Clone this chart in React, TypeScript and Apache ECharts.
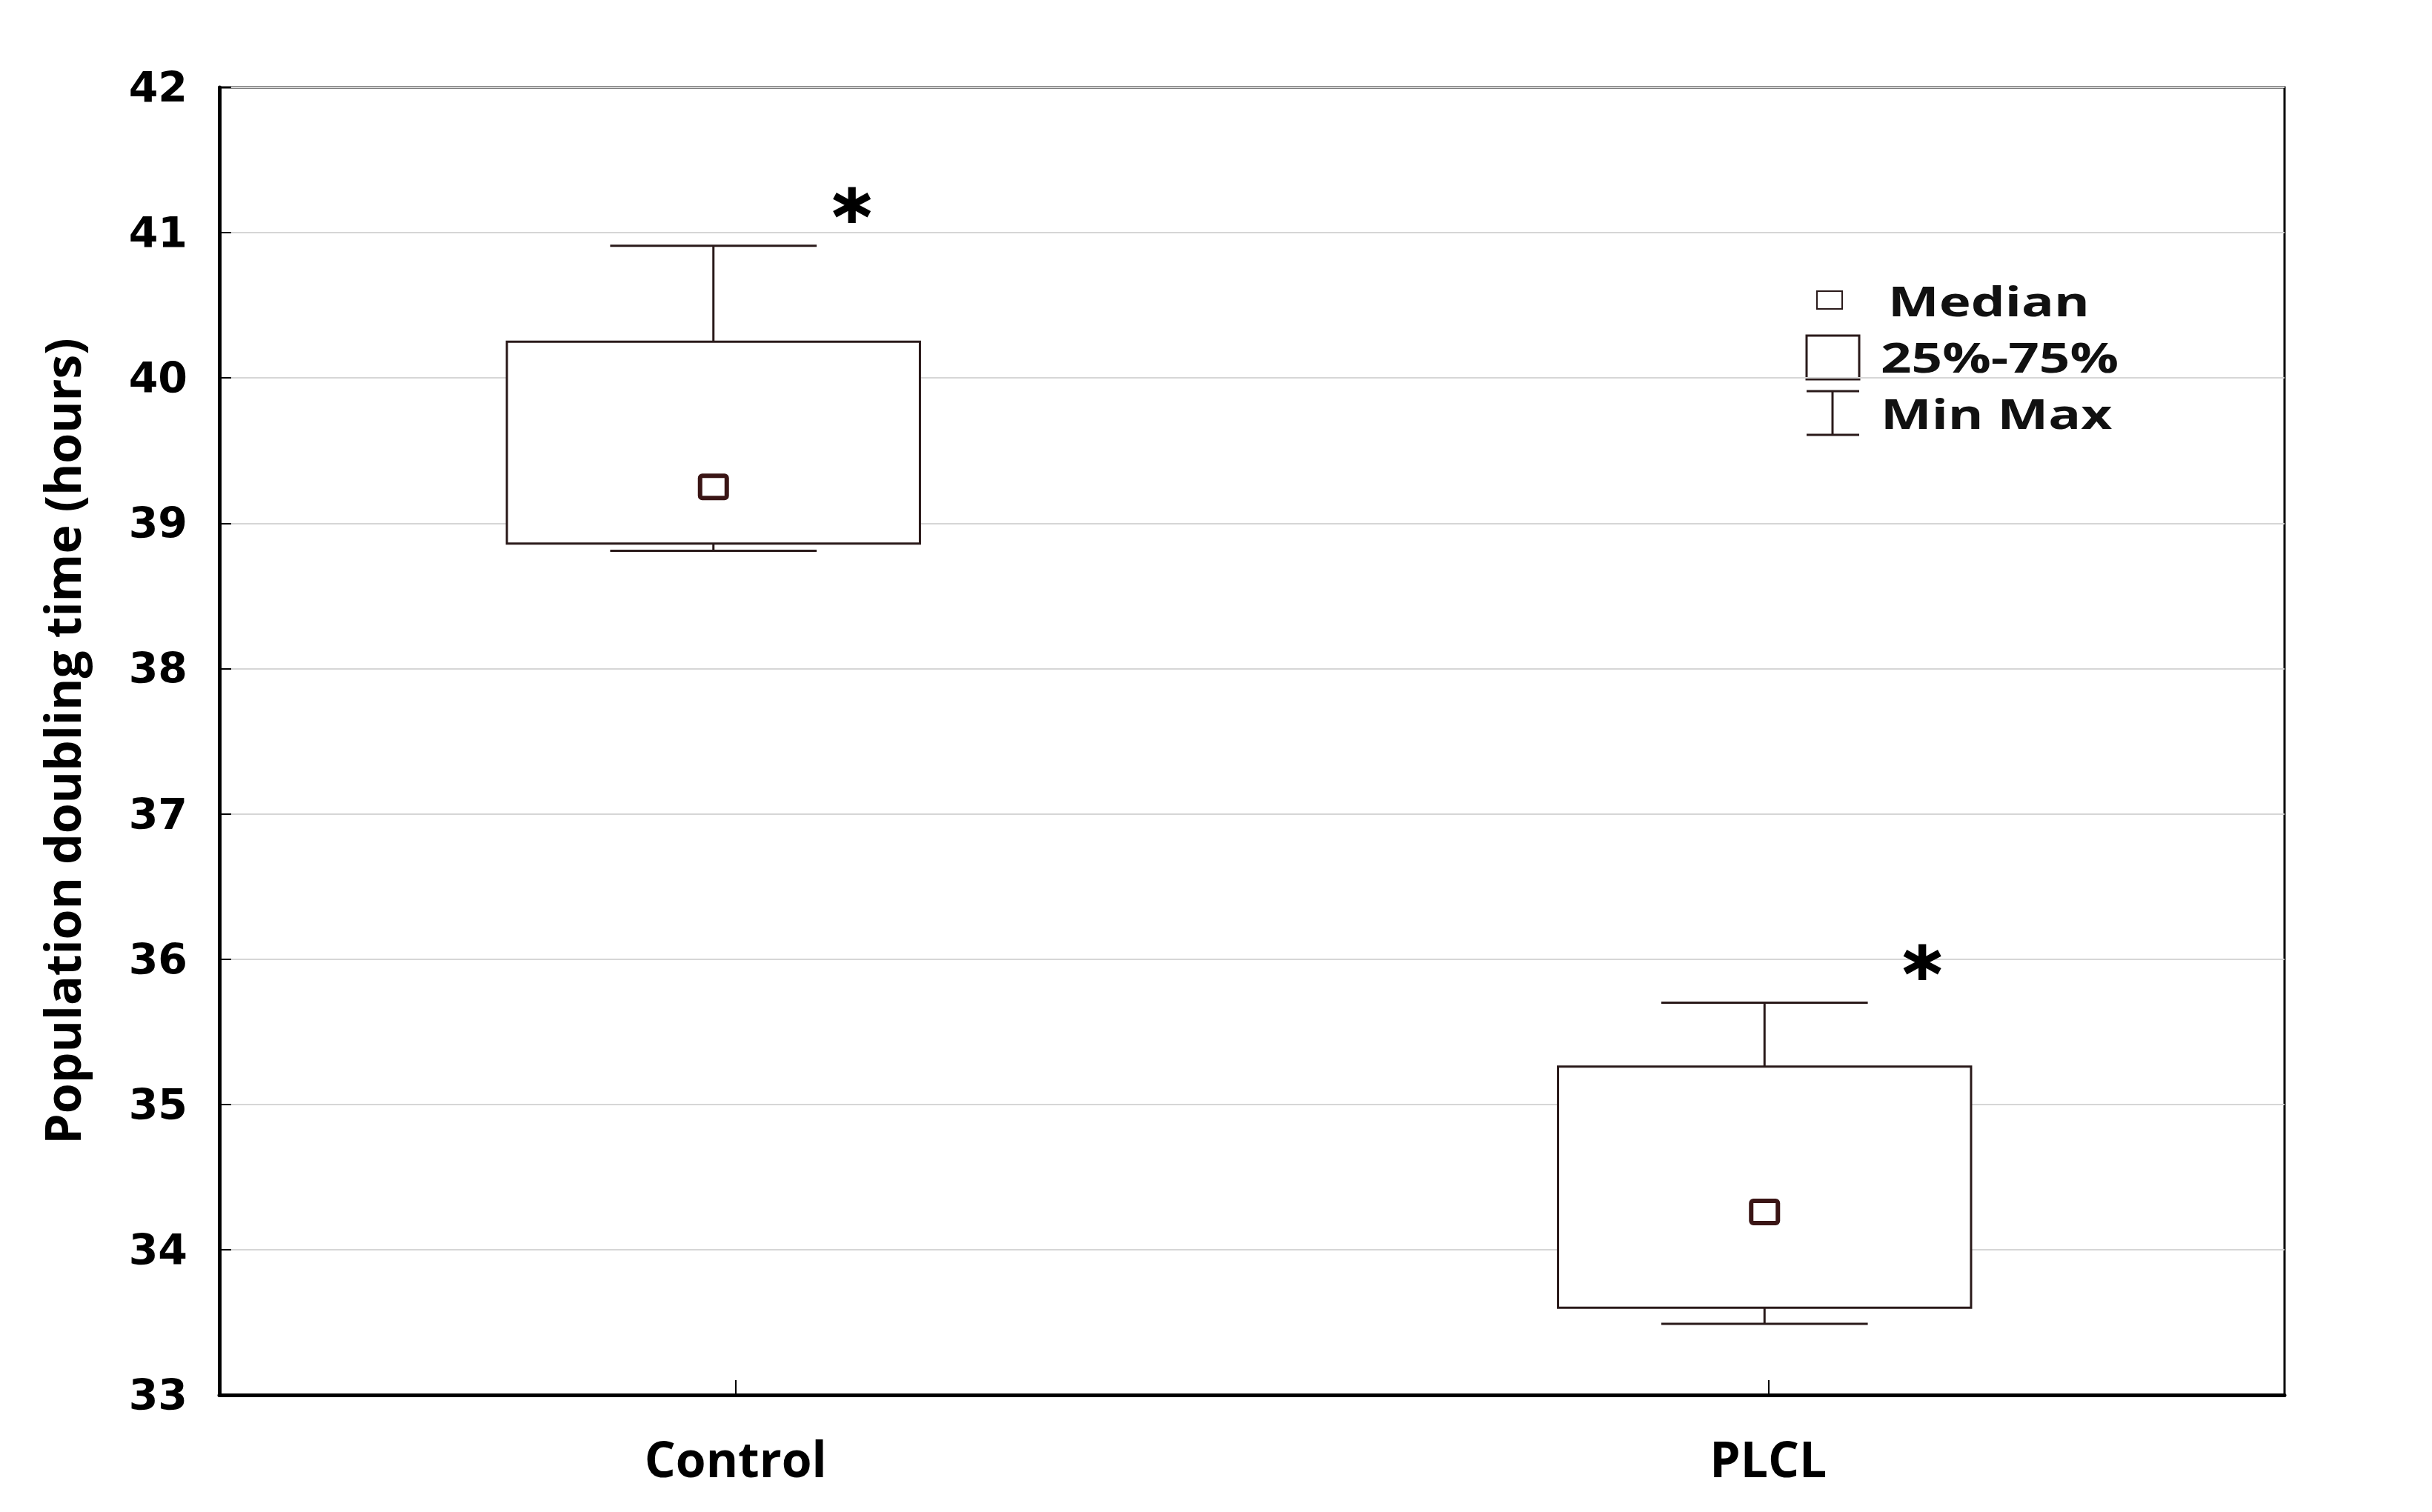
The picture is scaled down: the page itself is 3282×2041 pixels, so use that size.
import React, { useEffect, useRef } from 'react';
import * as echarts from 'echarts';

// ---- data ----
const categories = ['Control', 'PLCL'];
const minValues = [38.81, 33.49];
const q1Values = [38.86, 33.6];
const medianValues = [39.25, 34.26];
const q3Values = [40.25, 35.26];
const maxValues = [40.91, 35.7];
const significance = ['*', '*'];
const yMin = 33;
const yMax = 42;
const yInterval = 1;
const yTitle = 'Population doubling time (hours)';
const legendLabels = ['Median', '25%-75%', 'Min Max'];

// ---- layout / style constants ----
const W = 3282;
const H = 2041;
const boxShift = [-30, -5];
const starNudge = [-13, 13];
const LINE = '#2a1a1a';
const MEDIAN = '#3a1515';

export default function App() {
  const ref = useRef<HTMLDivElement>(null);
  useEffect(() => {
    document.body.style.margin = '0';
    if (!ref.current) return;
    const chart = echarts.init(ref.current, null, { renderer: 'svg' });

    const seriesData = categories.map((_, i) => [
      i,
      minValues[i],
      q1Values[i],
      medianValues[i],
      q3Values[i],
      maxValues[i],
    ]);

    const legendText = (text: string, x: number, y: number) => ({
      type: 'text',
      x,
      y,
      scaleX: 1.3,
      scaleY: 1,
      style: {
        text,
        fontSize: 56,
        fontWeight: 'bold',
        fontFamily: 'Open Sans',
        fill: '#111',
        align: 'left',
        verticalAlign: 'middle',
      },
    });

    chart.setOption({
      animation: false,
      backgroundColor: '#ffffff',
      grid: {
        left: 296,
        right: W - 3083,
        top: 118,
        bottom: H - 1883,
        show: true,
        borderColor: '#000',
        borderWidth: 3,
        backgroundColor: 'transparent',
      },
      xAxis: {
        type: 'category',
        data: categories,
        boundaryGap: true,
        axisLine: { show: true, lineStyle: { color: '#000', width: 5 } },
        axisTick: {
          show: true,
          inside: true,
          alignWithLabel: true,
          length: 20,
          lineStyle: { color: '#000', width: 2 },
        },
        axisLabel: {
          margin: 52,
          fontSize: 66,
          fontWeight: 'bold',
          fontFamily: 'Open Sans',
          color: '#000',
        },
        splitLine: { show: false },
      },
      yAxis: {
        type: 'value',
        min: yMin,
        max: yMax,
        interval: yInterval,
        name: yTitle,
        nameLocation: 'middle',
        nameGap: 180,
        nameTextStyle: {
          fontSize: 66,
          fontWeight: 'bold',
          fontFamily: 'Open Sans',
          color: '#000',
        },
        axisLine: { show: true, lineStyle: { color: '#000', width: 5 } },
        axisTick: {
          show: true,
          inside: true,
          length: 16,
          lineStyle: { color: '#000', width: 2 },
        },
        axisLabel: {
          margin: 43,
          fontSize: 57,
          fontWeight: 'bold',
          fontFamily: 'DejaVu Sans',
          color: '#000',
        },
        splitLine: { show: true, lineStyle: { color: '#d6d6d6', width: 2 } },
      },
      series: [
        {
          type: 'custom',
          data: seriesData,
          encode: { x: 0, y: [1, 2, 3, 4, 5] },
          renderItem: (params: any, api: any) => {
            const i = api.value(0);
            const band = api.size([1, 0])[0];
            const cx = api.coord([i, api.value(3)])[0] + (boxShift[i] ?? 0);
            const pMin = api.coord([i, api.value(1)])[1];
            const pQ1 = api.coord([i, api.value(2)])[1];
            const pMed = api.coord([i, api.value(3)])[1];
            const pQ3 = api.coord([i, api.value(4)])[1];
            const pMax = api.coord([i, api.value(5)])[1];
            const hw = band * 0.2;
            const cw = band * 0.1;
            const ls = { stroke: LINE, lineWidth: 3 };
            return {
              type: 'group',
              children: [
                { type: 'line', shape: { x1: cx, y1: pMax, x2: cx, y2: pQ3 }, style: ls },
                { type: 'line', shape: { x1: cx, y1: pQ1, x2: cx, y2: pMin }, style: ls },
                { type: 'line', shape: { x1: cx - cw, y1: pMax, x2: cx + cw, y2: pMax }, style: ls },
                { type: 'line', shape: { x1: cx - cw, y1: pMin, x2: cx + cw, y2: pMin }, style: ls },
                {
                  type: 'rect',
                  shape: { x: cx - hw, y: pQ3, width: hw * 2, height: pQ1 - pQ3 },
                  style: { fill: '#fff', stroke: LINE, lineWidth: 3 },
                },
                {
                  type: 'rect',
                  shape: { x: cx - 18, y: pMed - 15, width: 36, height: 30, r: 3 },
                  style: { fill: '#fff', stroke: MEDIAN, lineWidth: 6 },
                },
                {
                  type: 'text',
                  x: cx + 200 + (starNudge[i] ?? 0),
                  y: pMax - 38,
                  style: {
                    text: significance[i],
                    fontSize: 100,
                    fontWeight: 'bold',
                    fontFamily: 'DejaVu Sans',
                    fill: '#000',
                    stroke: '#000',
                    lineWidth: 2,
                    align: 'center',
                    verticalAlign: 'middle',
                  },
                },
              ],
            };
          },
        },
      ],
      graphic: [
        {
          type: 'rect',
          shape: { x: 2452, y: 393, width: 34, height: 24 },
          style: { fill: '#fff', stroke: LINE, lineWidth: 2 },
        },
        legendText(legendLabels[0], 2548, 405),
        {
          type: 'rect',
          shape: { x: 2438, y: 453, width: 71, height: 59 },
          style: { fill: '#fff', stroke: LINE, lineWidth: 3 },
        },
        legendText(legendLabels[1], 2538, 481),
        {
          type: 'line',
          shape: { x1: 2438, y1: 528, x2: 2509, y2: 528 },
          style: { stroke: LINE, lineWidth: 3 },
        },
        {
          type: 'line',
          shape: { x1: 2438, y1: 587, x2: 2509, y2: 587 },
          style: { stroke: LINE, lineWidth: 3 },
        },
        {
          type: 'line',
          shape: { x1: 2473, y1: 528, x2: 2473, y2: 587 },
          style: { stroke: LINE, lineWidth: 3 },
        },
        legendText(legendLabels[2], 2538, 557),
      ],
    });

    return () => chart.dispose();
  }, []);

  return <div ref={ref} style={{ width: W, height: H }} />;
}
